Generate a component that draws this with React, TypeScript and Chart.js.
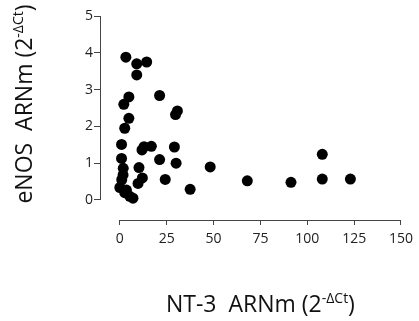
import React, { useEffect, useRef } from "react";
import { Chart, registerables } from "chart.js";

Chart.register(...registerables);

const ntValues = [3.2, 9, 14.3, 9, 4.8, 2.1, 21.2, 30.7, 29.7, 4.8, 2.6, 0.9, 12.9, 11.8, 16.8, 29.1, 0.9, 21.2, 30, 48.2, 10.2, 1.8, 1.7, 1.0, 12, 9.7, 24.2, 37.5, 0, 2.6, 5.3, 7, 68, 91.3, 108, 108, 123, 3.5];
const enosValues = [3.88, 3.7, 3.75, 3.4, 2.8, 2.6, 2.84, 2.42, 2.32, 2.22, 1.95, 1.51, 1.45, 1.36, 1.46, 1.44, 1.13, 1.1, 1.0, 0.9, 0.88, 0.86, 0.68, 0.55, 0.6, 0.45, 0.56, 0.29, 0.34, 0.2, 0.1, 0.05, 0.52, 0.48, 1.24, 0.57, 0.57, 0.27];
const xTicks = [0, 25, 50, 75, 100, 125, 150];
const yTicks = [0, 1, 2, 3, 4, 5];
const xTitleMain = "NT-3  ARNm (2";
const yTitleMain = "eNOS  ARNm (2";
const titleSup = "-\u0394Ct";
const titleEnd = ")";

const FONT = "'Open Sans', sans-serif";

function drawTitle(ctx: CanvasRenderingContext2D, main: string, cx: number, cy: number) {
  const big = `23px ${FONT}`;
  const small = `14px ${FONT}`;
  ctx.font = big;
  const w1 = ctx.measureText(main).width;
  const w3 = ctx.measureText(titleEnd).width;
  ctx.font = small;
  const w2 = ctx.measureText(titleSup).width;
  const total = w1 + w2 + w3;
  let x = cx - total / 2;
  ctx.textAlign = "left";
  ctx.textBaseline = "alphabetic";
  ctx.fillStyle = "#111";
  ctx.font = big;
  ctx.fillText(main, x, cy);
  x += w1;
  ctx.font = small;
  ctx.fillText(titleSup, x, cy - 9);
  x += w2;
  ctx.font = big;
  ctx.fillText(titleEnd, x, cy);
}

const axesPlugin = {
  id: "customAxes",
  afterDraw(chart: any) {
    const { ctx, chartArea, scales } = chart;
    const xs = scales.x;
    const ys = scales.y;
    ctx.save();
    ctx.strokeStyle = "#444";
    ctx.lineWidth = 1;
    ctx.beginPath();
    const ax = Math.round(chartArea.left) + 0.5;
    ctx.moveTo(ax, ys.getPixelForValue(5));
    ctx.lineTo(ax, ys.getPixelForValue(0));
    const ay = Math.round(chartArea.bottom) + 0.5;
    ctx.moveTo(xs.getPixelForValue(0), ay);
    ctx.lineTo(xs.getPixelForValue(150), ay);
    ctx.stroke();

    drawTitle(ctx, xTitleMain, (xs.getPixelForValue(0) + xs.getPixelForValue(150)) / 2, 312);
    ctx.save();
    ctx.translate(32, (ys.getPixelForValue(0) + ys.getPixelForValue(5)) / 2 - 4);
    ctx.rotate(-Math.PI / 2);
    drawTitle(ctx, yTitleMain, 0, 0);
    ctx.restore();
    ctx.restore();
  },
};

export default function App() {
  const ref = useRef<HTMLCanvasElement>(null);
  useEffect(() => {
    if (!ref.current) return;
    const data = ntValues.map((x, i) => ({ x, y: enosValues[i] }));
    const chart = new Chart(ref.current, {
      type: "scatter",
      data: {
        datasets: [
          {
            data,
            backgroundColor: "#000",
            borderColor: "#000",
            pointRadius: 5.5,
            pointHoverRadius: 5.5,
            borderWidth: 0,
          },
        ],
      },
      options: {
        animation: false,
        responsive: false,
        layout: { padding: { top: 16, right: 16, left: 0, bottom: 0 } },
        plugins: { legend: { display: false }, tooltip: { enabled: false } },
        scales: {
          x: {
            type: "linear",
            min: -10.6,
            max: 150,
            afterBuildTicks: (s: any) => {
              s.ticks = xTicks.map((v) => ({ value: v }));
            },
            afterFit: (s: any) => {
              s.height = 101;
            },
            border: { display: false },
            grid: { drawOnChartArea: false, drawTicks: true, tickLength: 5, color: "#444" },
            ticks: { font: { family: FONT, size: 14 }, color: "#222", padding: 6, maxRotation: 0, autoSkip: false },
          },
          y: {
            type: "linear",
            min: -0.5435,
            max: 5,
            afterBuildTicks: (s: any) => {
              s.ticks = yTicks.map((v) => ({ value: v }));
            },
            afterFit: (s: any) => {
              s.width = 100;
            },
            border: { display: false },
            grid: { drawOnChartArea: false, drawTicks: true, tickLength: 6, color: "#444" },
            ticks: { font: { family: FONT, size: 14 }, color: "#222", padding: 1 },
          },
        },
      },
      plugins: [axesPlugin],
    });
    return () => chart.destroy();
  }, []);
  return (
    <div style={{ position: "fixed", left: 0, top: 0, width: 419, height: 321, background: "#fff" }}>
      <canvas ref={ref} width={419} height={321} style={{ display: "block" }} />
    </div>
  );
}
